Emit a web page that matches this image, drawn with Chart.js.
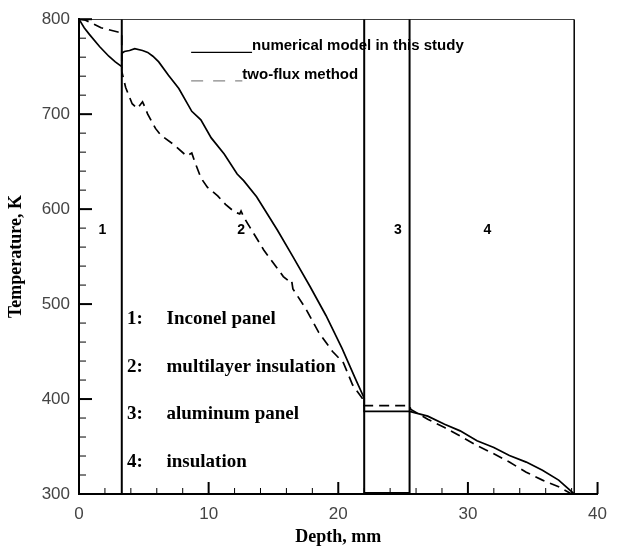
<!DOCTYPE html>
<html>
<head>
<meta charset="utf-8">
<script src="https://cdn.jsdelivr.net/npm/chart.js@4.4.0/dist/chart.umd.min.js"></script>
<style>
    html, body { margin: 0; padding: 0; background: #fff; }
</style>
</head>
<body>
<canvas id="tempPlot" width="617" height="550"></canvas>
<script>
// numerical model in this study (solid)
const model_depth = [0, 0.4, 0.8, 1.6, 2.3, 2.8, 3.3, 3.3, 3.5, 3.9, 4.3, 4.9, 5.3, 5.7, 6.15, 6.9, 7.7, 8.7, 9.4, 10.2, 11.2, 12.2, 12.7, 13.7, 15.3, 16.5, 17.8, 19.05, 20.3, 21.3, 22, 22, 25.5, 26.9, 28.2, 29.4, 30.7, 32.0, 33.2, 34.5, 35.75, 37.0, 38.2];
const model_temp = [800, 791, 784, 771, 761, 755, 750, 764, 766, 767, 769, 767, 765, 761, 755, 741, 727, 703, 694, 675, 658, 637, 630, 613, 578, 550, 519, 488, 453, 422, 401, 387, 387, 382, 373.5, 366.5, 356, 349, 340.5, 333.6, 325, 314.6, 300];

// two-flux method (dashed)
const flux_depth = [0, 0.5, 1.2, 1.7, 3.0, 3.3, 3.3, 3.6, 4.1, 4.5, 4.9, 5.0, 5.3, 5.9, 6.3, 7.3, 8.3, 8.7, 8.9, 9.4, 9.9, 10.7, 11.3, 12.0, 12.4, 12.5, 12.7, 13.0, 14.25, 15.76, 16.2, 16.4, 16.5, 17.5, 18.5, 19.56, 20.2, 20.4, 21.1, 21.84, 22, 25.5, 25.6, 26.9, 28.2, 29.4, 30.7, 32.0, 33.2, 34.5, 35.75, 37.0, 38.0];
const flux_temp = [800, 799, 794.5, 791, 786.5, 786, 745, 728, 711, 706, 713, 710, 700, 685, 678, 668, 656, 659, 651, 633, 623, 614, 605, 597, 595, 598, 592, 585, 557, 529, 524, 525, 516, 495, 470, 450, 441, 438, 415, 401, 393, 393, 389, 378.7, 370, 361, 351, 342.3, 333.6, 323, 314.6, 307.6, 300];

// layer boundaries, mm
const boundaries = [3.3, 22, 25.5, 38.2];
const region_labels = ['1', '2', '3', '4'];
const region_label_x = [1.8, 12.5, 24.6, 31.5];
const region_names = ['Inconel panel', 'multilayer insulation', 'aluminum panel', 'insulation'];

const x_labels = [0, 10, 20, 30, 40];
const y_labels = [300, 400, 500, 600, 700, 800];

const toPoints = (xs, ys) => xs.map((x, i) => ({ x: x, y: ys[i] }));

const frame_sets = boundaries.map(b => ({
    data: [{ x: b, y: 300 }, { x: b, y: 800 }],
    borderColor: '#000',
    borderWidth: b === 38.2 ? 1.5 : 2,
    pointRadius: 0,
}));
// top edge of the box and the base of panel 3
frame_sets.push({
    data: [{ x: 0, y: 800 }, { x: boundaries[3], y: 800 }],
    borderColor: '#000', borderWidth: 1.5, pointRadius: 0,
});
frame_sets.push({
    data: [{ x: boundaries[1], y: 300 }, { x: boundaries[2], y: 300 }],
    borderColor: '#000', borderWidth: 4, pointRadius: 0,
});

// inward tick marks, drawn on the library's own ticks
const innerTicks = {
    id: 'innerTicks',
    afterDraw(chart) {
        const { ctx, chartArea, scales: { x, y } } = chart;
        ctx.save();
        ctx.strokeStyle = '#000';
        x.ticks.forEach(t => {
            const px = x.getPixelForValue(t.value);
            const major = x_labels.includes(t.value);
            ctx.lineWidth = major ? 2 : 1;
            ctx.beginPath();
            ctx.moveTo(px, chartArea.bottom);
            ctx.lineTo(px, chartArea.bottom - (major ? 12 : 6));
            ctx.stroke();
        });
        y.ticks.forEach(t => {
            const py = y.getPixelForValue(t.value);
            const major = y_labels.includes(t.value);
            ctx.lineWidth = major ? 2 : 1;
            ctx.beginPath();
            ctx.moveTo(chartArea.left, py);
            ctx.lineTo(chartArea.left + (major ? 13 : 7), py);
            ctx.stroke();
        });
        ctx.restore();
    }
};

// text inside the plot: region numbers, layer list and the line key
const annotate = {
    id: 'annotate',
    afterDraw(chart) {
        const { ctx, scales: { x, y } } = chart;
        ctx.save();
        ctx.fillStyle = '#000';
        ctx.textBaseline = 'middle';

        ctx.font = 'bold 14px "Liberation Sans"';
        ctx.textAlign = 'center';
        region_labels.forEach((lab, i) => {
            ctx.fillText(lab, x.getPixelForValue(region_label_x[i]), y.getPixelForValue(578));
        });

        ctx.font = 'bold 19px "Liberation Serif"';
        ctx.textAlign = 'left';
        region_names.forEach((name, i) => {
            const py = y.getPixelForValue(484 - 50 * i);
            ctx.fillText((i + 1) + ':', x.getPixelForValue(3.7), py);
            ctx.fillText(name, x.getPixelForValue(6.75), py);
        });

        // key
        const kx0 = x.getPixelForValue(8.65);
        const kx1 = x.getPixelForValue(13.35);
        const ky = y.getPixelForValue(765);
        ctx.lineWidth = 1.2;
        ctx.strokeStyle = '#000';
        ctx.beginPath();
        ctx.moveTo(kx0, ky); ctx.lineTo(kx1, ky);
        ctx.stroke();
        const ky2 = y.getPixelForValue(735);
        ctx.strokeStyle = '#888';
        ctx.setLineDash([12, 10]);
        ctx.beginPath();
        ctx.moveTo(kx0, ky2); ctx.lineTo(x.getPixelForValue(12.6), ky2);
        ctx.stroke();
        ctx.setLineDash([]);
        ctx.font = 'bold 15px "Liberation Sans Narrow", "Liberation Sans"';
        ctx.fillText('numerical model in this study', kx1, ky - 7);
        ctx.fillText('two-flux method', x.getPixelForValue(12.6), ky2 - 6);
        ctx.restore();
    }
};

const config = {
    type: 'line',
    data: {
        datasets: [{
            label: 'numerical model in this study',
            data: toPoints(model_depth, model_temp),
            borderColor: '#000',
            borderWidth: 1.7,
            pointRadius: 0,
        },
        {
            label: 'two-flux method',
            data: toPoints(flux_depth, flux_temp),
            borderColor: '#000',
            borderWidth: 1.7,
            borderDash: [10, 6],
            pointRadius: 0,
        }, ...frame_sets]
    },
    options: {
        responsive: false,
        animation: false,
        layout: { padding: { left: 0, right: 11, top: 13, bottom: 0 } },
        plugins: {
            legend: { display: false },
            tooltip: { enabled: false }
        },
        elements: { line: { tension: 0 } },
        scales: {
            x: {
                type: 'linear',
                min: 0,
                max: 40,
                grid: { drawOnChartArea: false, drawTicks: false },
                border: { display: true, color: '#000', width: 2 },
                ticks: {
                    stepSize: 2,
                    autoSkip: false,
                    maxRotation: 0,
                    padding: 10,
                    color: '#444',
                    font: { family: 'Liberation Sans', size: 17 },
                    callback: v => x_labels.includes(v) ? String(v) : ''
                },
                title: {
                    display: true,
                    text: 'Depth, mm',
                    color: '#000',
                    font: { family: 'Liberation Serif', size: 18, weight: 'bold' },
                    padding: { top: 0, bottom: 2 }
                },
                afterFit(scale) { scale.height = 56; }
            },
            y: {
                type: 'linear',
                min: 300,
                max: 800,
                grid: { drawOnChartArea: false, drawTicks: false },
                border: { display: true, color: '#000', width: 2 },
                ticks: {
                    stepSize: 20,
                    autoSkip: false,
                    padding: 9,
                    color: '#444',
                    font: { family: 'Liberation Sans', size: 17 },
                    callback: v => y_labels.includes(v) ? String(v) : ''
                },
                title: {
                    display: true,
                    text: 'Temperature, K',
                    color: '#000',
                    font: { family: 'Liberation Serif', size: 18, weight: 'bold' },
                    padding: { top: 6, bottom: 0 }
                },
                afterFit(scale) { scale.width = 79; }
            }
        }
    },
    plugins: [innerTicks, annotate]
};

new Chart(document.getElementById('tempPlot').getContext('2d'), config);
</script>
</body>
</html>
